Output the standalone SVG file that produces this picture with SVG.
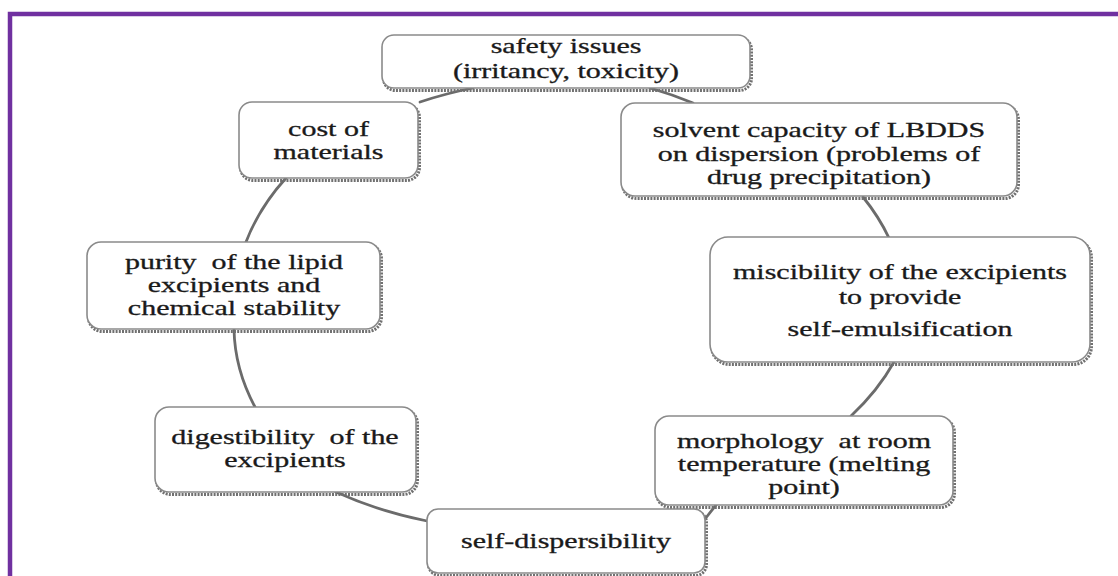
<svg xmlns="http://www.w3.org/2000/svg" width="1118" height="576" viewBox="0 0 1118 576">
<style>
.frame{fill:none;stroke:#7030a0;stroke-width:4.5}
.link{fill:none;stroke:#6b6b6b;stroke-width:2.8;stroke-linecap:round}
.shadow{fill:none;stroke:#707070;stroke-width:3;stroke-dasharray:2 1.2}
.box{fill:#ffffff;stroke:#8a8a8a;stroke-width:1.6}
.t{font-family:"Liberation Serif","Times New Roman",serif;font-size:20px;fill:#1a1a1a;stroke:#1a1a1a;stroke-width:0.3;text-anchor:middle}
</style>
<rect x="0" y="0" width="1118" height="576" fill="#ffffff"/>
<path class="frame" d="M10 576 V14 H1118"/>
<g id="connectors">
  <path class="link" d="M650 88 A335 232 0 0 1 693 103"/>
  <path class="link" d="M863 197 A335 232 0 0 1 889 238"/>
  <path class="link" d="M894 362 A335 232 0 0 1 851 416"/>
  <path class="link" d="M716 505 L705 519"/>
  <path class="link" d="M427 521 A335 232 0 0 1 336 492"/>
  <path class="link" d="M255 407 A335 232 0 0 1 234 329"/>
  <path class="link" d="M246 242 A335 232 0 0 1 286 178"/>
  <path class="link" d="M420 102 A335 232 0 0 1 473 88"/>
</g>
<g id="safety">
  <rect class="shadow" x="383.5" y="37.5" width="368" height="53" rx="12"/>
  <rect class="box" x="382" y="35" width="368" height="53" rx="12"/>
  <g transform="translate(566 0) scale(1.5 1)">
    <text class="t" x="0" y="53">safety issues</text>
    <text class="t" x="0" y="78">(irritancy, toxicity)</text>
  </g>
</g>
<g id="cost">
  <rect class="shadow" x="240.5" y="104.5" width="179" height="76" rx="13"/>
  <rect class="box" x="239" y="102" width="179" height="76" rx="13"/>
  <g transform="translate(328.5 0) scale(1.5 1)">
    <text class="t" x="0" y="136">cost of</text>
    <text class="t" x="0" y="159">materials</text>
  </g>
</g>
<g id="solvent">
  <rect class="shadow" x="622.5" y="105.5" width="396" height="93" rx="14"/>
  <rect class="box" x="621" y="103" width="396" height="93" rx="14"/>
  <g transform="translate(819 0) scale(1.5 1)">
    <text class="t" x="0" y="137">solvent capacity of LBDDS</text>
    <text class="t" x="0" y="161">on dispersion (problems of</text>
    <text class="t" x="0" y="184">drug precipitation)</text>
  </g>
</g>
<g id="miscibility">
  <rect class="shadow" x="711.5" y="239.5" width="380" height="125" rx="18"/>
  <rect class="box" x="710" y="237" width="380" height="125" rx="18"/>
  <g transform="translate(900 0) scale(1.5 1)">
    <text class="t" x="0" y="279">miscibility of the excipients</text>
    <text class="t" x="0" y="304">to provide</text>
    <text class="t" x="0" y="336">self-emulsification</text>
  </g>
</g>
<g id="morphology">
  <rect class="shadow" x="656.5" y="418.5" width="298" height="89" rx="14"/>
  <rect class="box" x="655" y="416" width="298" height="89" rx="14"/>
  <g transform="translate(804 0) scale(1.5 1)">
    <text class="t" x="0" y="448" xml:space="preserve">morphology  at room</text>
    <text class="t" x="0" y="471">temperature (melting</text>
    <text class="t" x="0" y="494">point)</text>
  </g>
</g>
<g id="self-dispersibility">
  <rect class="shadow" x="428.5" y="511.5" width="278" height="64" rx="11"/>
  <rect class="box" x="427" y="509" width="278" height="64" rx="11"/>
  <g transform="translate(566 0) scale(1.5 1)">
    <text class="t" x="0" y="548">self-dispersibility</text>
  </g>
</g>
<g id="digestibility">
  <rect class="shadow" x="156.5" y="409.5" width="261" height="85" rx="14"/>
  <rect class="box" x="155" y="407" width="261" height="85" rx="14"/>
  <g transform="translate(285 0) scale(1.5 1)">
    <text class="t" x="0" y="444" xml:space="preserve">digestibility  of the</text>
    <text class="t" x="0" y="467">excipients</text>
  </g>
</g>
<g id="purity">
  <rect class="shadow" x="88.5" y="244.5" width="293" height="87" rx="14"/>
  <rect class="box" x="87" y="242" width="293" height="87" rx="14"/>
  <g transform="translate(234 0) scale(1.5 1)">
    <text class="t" x="0" y="269" xml:space="preserve">purity  of the lipid</text>
    <text class="t" x="0" y="292">excipients and</text>
    <text class="t" x="0" y="315">chemical stability</text>
  </g>
</g>
</svg>
